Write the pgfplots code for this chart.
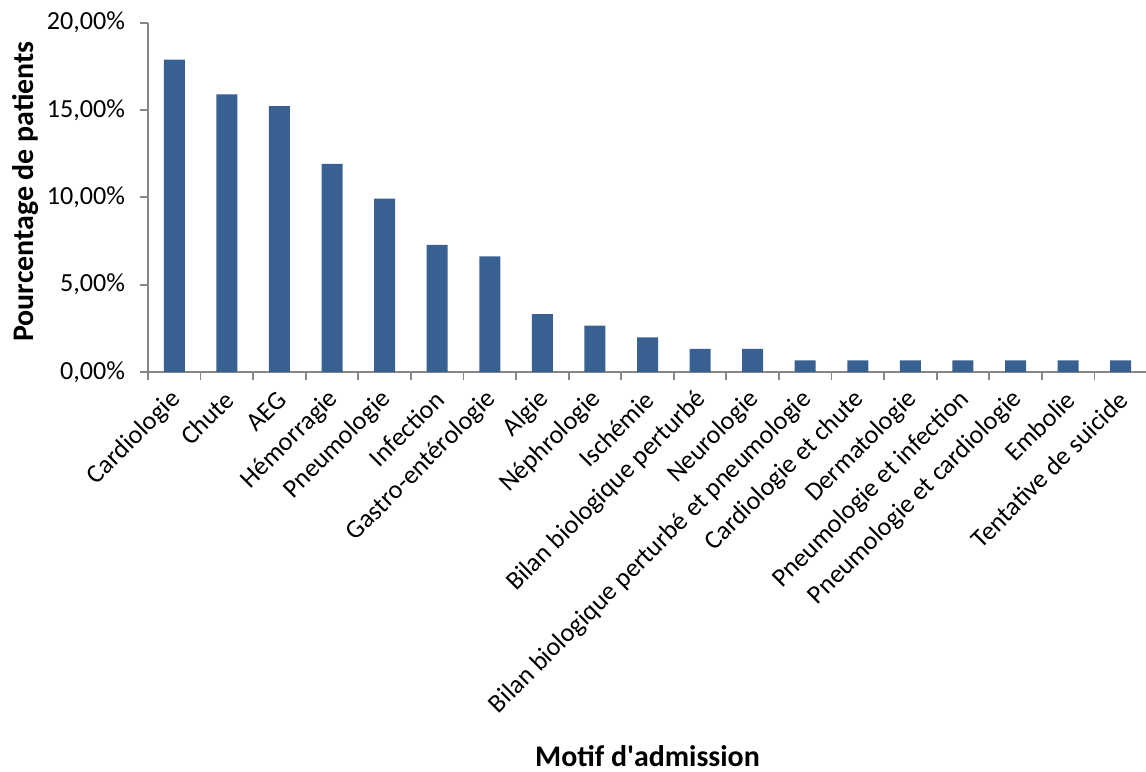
\documentclass[border=0pt]{standalone}
\usepackage{pgfplots}
\pgfplotsset{compat=1.18}
\usepackage{fontspec}
\setmainfont{Carlito}
\usetikzlibrary{calc}
\definecolor{barblue}{RGB}{56,97,146}
\definecolor{axisgray}{RGB}{134,134,134}
\begin{document}
\begin{tikzpicture}
\begin{axis}[
  name=ax,
  scale only axis,
  width=499.5bp, height=174.65bp,
  xmin=-0.5, xmax=18.5,
  ymin=0, ymax=20,
  axis lines*=left,
  axis line style={draw=axisgray, line width=0.9bp, -},
  tick style={draw=axisgray, line width=0.9bp},
  tick align=outside,
  major tick length=4bp,
  xtick={-0.5,0.5,...,18.5},
  x tick label as interval,
  xticklabels={Cardiologie,Chute,AEG,Hémorragie,Pneumologie,Infection,Gastro-entérologie,Algie,Néphrologie,Ischémie,Bilan biologique perturbé,Neurologie,Bilan biologique perturbé et pneumologie,Cardiologie et chute,Dermatologie,Pneumologie et infection,Pneumologie et cardiologie,Embolie,Tentative de suicide},
  xticklabel style={yshift=-7bp, xshift=2bp, rotate=45, anchor=east, font=\fontsize{13.1}{15}\selectfont, inner sep=1bp},
  ytick={0,5,10,15,20},
  yticklabels={{0,00\%},{5,00\%},{10,00\%},{15,00\%},{20,00\%}},
  yticklabel style={font=\fontsize{13.1}{15}\selectfont, xshift=-4bp},
  xlabel={\textbf{Motif d\textquotesingle admission}},
  xlabel style={at={(axis description cs:0.5,-1.128)}, anchor=base, font=\fontsize{15}{18}\selectfont},
  ylabel={\textbf{Pourcentage de patients}},
  ylabel style={at={(axis description cs:-0.1231,0.517)}, anchor=center, font=\fontsize{15}{18}\selectfont},
  ybar, bar width=10.5bp,
  clip=false,
]
\addplot[fill=barblue, draw=none] coordinates {
  (0,17.88) (1,15.89) (2,15.23) (3,11.92) (4,9.93) (5,7.28) (6,6.62)
  (7,3.31) (8,2.65) (9,1.99) (10,1.32) (11,1.32) (12,0.66) (13,0.66)
  (14,0.66) (15,0.66) (16,0.66) (17,0.66) (18,0.66)
};
\end{axis}
\pgfresetboundingbox
\path[use as bounding box] ($(ax.south west)+(-74bp,-200bp)$) rectangle ($(ax.north east)+(-0.5bp,11.35bp)$);
\end{tikzpicture}
\end{document}
